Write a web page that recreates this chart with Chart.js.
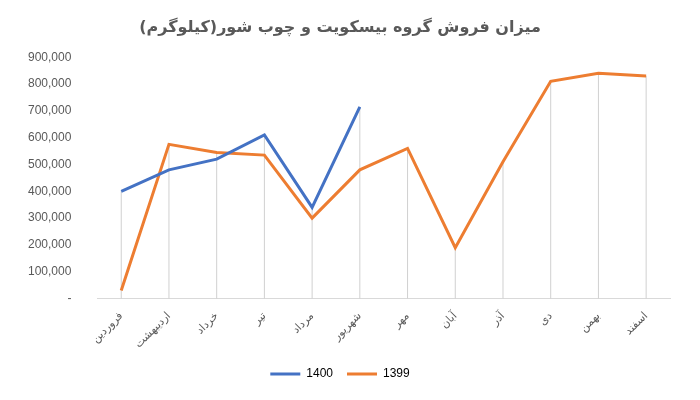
<!DOCTYPE html>
<html><head><meta charset="utf-8">
<script src="https://cdn.jsdelivr.net/npm/chart.js@4/dist/chart.umd.min.js"></script>
<style>body{margin:0;background:#fff}#w{width:700px;height:400px;position:relative}</style>
</head><body><div id="w"><canvas id="c"></canvas></div>
<script>
const categories=["فروردین","اردیبهشت","خرداد","تیر","مرداد","شهریور","مهر","آبان","آذر","دی","بهمن","اسفند"];
const s1400=[400000,480000,520000,610000,340000,715000,null,null,null,null,null,null];
const s1399=[30000,575000,545000,535000,300000,480000,560000,190000,510000,810000,840000,830000];
const dropLines={id:'drop',beforeDatasetsDraw(ch){
  const {ctx,scales:{x,y}}=ch;ctx.save();ctx.strokeStyle='#d0d0d0';ctx.lineWidth=1;
  categories.forEach((c,i)=>{const v=Math.max(s1399[i]??0,s1400[i]??0);const px=x.getPixelForValue(i);
    ctx.beginPath();ctx.moveTo(px,y.getPixelForValue(v));ctx.lineTo(px,y.getPixelForValue(0));ctx.stroke();});
  ctx.restore();}};
new Chart(document.getElementById('c'),{type:'line',
data:{labels:categories,datasets:[
{label:'1400',data:s1400,borderColor:'#4472c4',borderWidth:3,pointRadius:0,fill:false,tension:0},
{label:'1399',data:s1399,borderColor:'#ed7d31',borderWidth:3,pointRadius:0,fill:false,tension:0}]},
plugins:[dropLines],
options:{responsive:true,maintainAspectRatio:false,animation:false,
layout:{padding:{left:10,right:30,top:14,bottom:10}},
plugins:{title:{display:true,text:'میزان فروش گروه بیسکویت و چوب شور(کیلوگرم)',color:'#595959',font:{size:16,weight:'bold',family:'DejaVu Sans'},padding:{top:4,bottom:20}},
legend:{position:'bottom',labels:{color:'#595959',font:{size:12,family:'Liberation Sans'},boxWidth:30,boxHeight:0,padding:14,generateLabels(ch){return ch.data.datasets.map((d,i)=>({text:d.label,strokeStyle:d.borderColor,fillStyle:d.borderColor,lineWidth:3,datasetIndex:i}));}}},
tooltip:{enabled:false}},
scales:{x:{offset:true,grid:{display:false},border:{color:'#d9d9d9'},ticks:{color:'#595959',font:{size:11,family:'DejaVu Sans'},maxRotation:45,minRotation:45}},
y:{min:0,max:900000,grid:{display:false},border:{display:false},ticks:{stepSize:100000,color:'#595959',font:{size:12,family:'Liberation Sans'},padding:18,callback:v=>v===0?'-':v.toLocaleString('en-US')}}}}});
</script></body></html>
